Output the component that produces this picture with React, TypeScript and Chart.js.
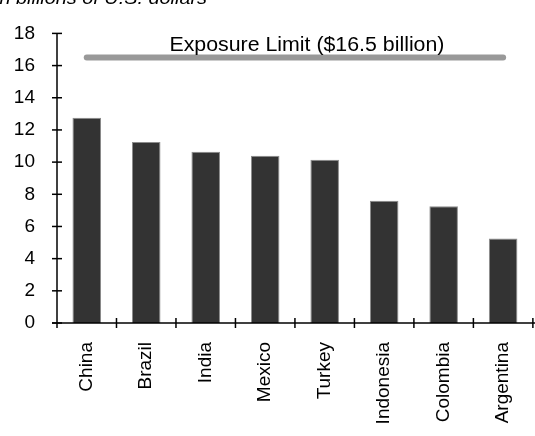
import React, { useEffect, useRef } from "react";
import { Chart, registerables } from "chart.js";

Chart.register(...registerables);

const countries = ["China", "Brazil", "India", "Mexico", "Turkey", "Indonesia", "Colombia", "Argentina"];
const exposure = [12.75, 11.25, 10.65, 10.4, 10.15, 7.6, 7.25, 5.25];
const limitValue = 16.5;
const limitSeries = countries.map(() => limitValue);
const limitLabel = "Exposure Limit ($16.5 billion)";
const titleText = "In billions of U.S. dollars";
const yTicks = [0, 2, 4, 6, 8, 10, 12, 14, 16, 18];

const FONT = '"Liberation Sans", Arial, sans-serif';

const decorPlugin = {
  id: "decor",
  afterDraw(chart: any) {
    const ctx = chart.ctx as CanvasRenderingContext2D;
    const area = chart.chartArea;
    const xs = chart.scales.x;
    const ys = chart.scales.y;
    ctx.save();
    ctx.strokeStyle = "#000";
    ctx.lineWidth = 1.5;
    const y0 = ys.getPixelForValue(0);
    const yTop = ys.getPixelForValue(18);
    ctx.beginPath();
    ctx.moveTo(area.left, yTop);
    ctx.lineTo(area.left, y0 + 5);
    ctx.stroke();
    yTicks.forEach((v) => {
      const py = ys.getPixelForValue(v);
      ctx.beginPath();
      ctx.moveTo(area.left - 5, py);
      ctx.lineTo(area.left + 5, py);
      ctx.stroke();
    });
    ctx.beginPath();
    ctx.moveTo(area.left - 5, y0);
    ctx.lineTo(chart.width, y0);
    ctx.stroke();
    const n = countries.length;
    for (let i = 1; i <= n; i++) {
      const a = xs.getPixelForValue(i - 1);
      const b = i < n ? xs.getPixelForValue(i) : a + (a - xs.getPixelForValue(i - 2));
      const px = (a + b) / 2;
      ctx.beginPath();
      ctx.moveTo(px, y0 - 5);
      ctx.lineTo(px, y0 + 5);
      ctx.stroke();
    }
    ctx.fillStyle = "#000";
    ctx.font = `20px ${FONT}`;
    ctx.textBaseline = "alphabetic";
    ctx.textAlign = "left";
    const w = ctx.measureText(limitLabel).width;
    const targetW = 275;
    const sx = targetW / w;
    const cx = (xs.getPixelForValue(3) + xs.getPixelForValue(4)) / 2 + 12;
    const ly = ys.getPixelForValue(limitValue) - 7;
    ctx.save();
    ctx.translate(cx - targetW / 2, ly);
    ctx.scale(sx, 1);
    ctx.fillText(limitLabel, 0, 0);
    ctx.restore();
    ctx.font = `italic 18px ${FONT}`;
    const tw = ctx.measureText(titleText).width;
    const tsx = 213 / tw;
    ctx.save();
    ctx.translate(-6, 4);
    ctx.scale(tsx, 1);
    ctx.fillText(titleText, 0, 0);
    ctx.restore();
    ctx.restore();
  },
};

export default function App() {
  const ref = useRef<HTMLCanvasElement | null>(null);
  useEffect(() => {
    if (!ref.current) return;
    const chart = new Chart(ref.current, {
      type: "bar",
      data: {
        labels: countries,
        datasets: [
          {
            type: "line",
            data: limitSeries,
            borderColor: "#999999",
            borderWidth: 6,
            borderCapStyle: "round",
            pointRadius: 0,
            fill: false,
            order: 0,
          } as any,
          {
            type: "bar",
            data: exposure,
            backgroundColor: "#333333",
            borderColor: "#8c8c8c",
            borderWidth: 1,
            barPercentage: 0.48,
            categoryPercentage: 1,
            order: 1,
          },
        ],
      },
      options: {
        responsive: false,
        animation: false,
        layout: { padding: { top: 23, right: 1, left: 0, bottom: 0 } },
        plugins: { legend: { display: false }, tooltip: { enabled: false }, title: { display: false } },
        scales: {
          x: {
            grid: { display: false, drawTicks: false },
            border: { display: false },
            ticks: {
              color: "#000",
              font: { family: FONT, size: 19 },
              maxRotation: 90,
              minRotation: 90,
              padding: 19,
              autoSkip: false,
            },
            afterFit: (s: any) => {
              s.height = 113;
            },
          },
          y: {
            min: 0,
            max: 18,
            grid: { display: false, drawTicks: false },
            border: { display: false },
            ticks: {
              stepSize: 2,
              color: "#000",
              font: { family: FONT, size: 19 },
              padding: 22,
            },
            afterFit: (s: any) => {
              s.width = 57;
            },
          },
        },
      },
      plugins: [decorPlugin],
    });
    return () => chart.destroy();
  }, []);
  return (
    <div style={{ position: "fixed", left: 0, top: 0, width: 535, height: 436, overflow: "hidden", background: "#fff" }}>
      <canvas ref={ref} width={545} height={436} style={{ display: "block", width: 545, height: 436 }} />
    </div>
  );
}
